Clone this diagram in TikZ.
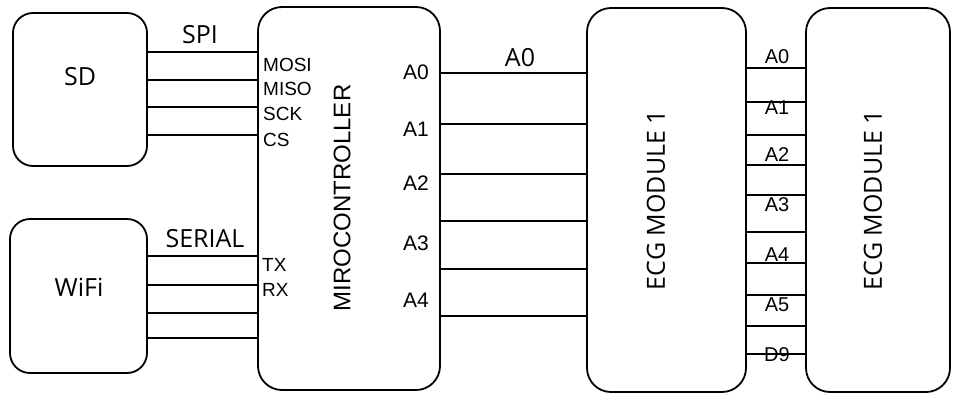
\documentclass[tikz,border=0pt]{standalone}
\usepackage{fontspec}
\setmainfont{Liberation Sans}
\newfontfamily\labelfont{Open Sans}
\usetikzlibrary{positioning}

\begin{document}
\begin{tikzpicture}[x=1pt,y=-1pt,
  box/.style={draw,line width=1.8pt,rounded corners=20pt,inner sep=0pt},
  wire/.style={line width=1.7pt},
  title/.style={font=\labelfont\fontsize{25}{29}\selectfont},
  vtitle/.style={font=\fontsize{24}{28}\selectfont,rotate=90},
  pin/.style={font=\fontsize{19}{22}\selectfont,inner sep=0pt}
]
\useasboundingbox (0,0) rectangle (953,394);
% blocks
\node[box,minimum width=134pt,minimum height=153pt] (sd) at (80,89.5) {};
\node[box,minimum width=137pt,minimum height=154pt] (wifi) at (78.5,296) {};
\node[box,minimum width=182pt,minimum height=383pt,rounded corners=24pt] (mcu) at (349,198.5) {};
\node[box,minimum width=159pt,minimum height=384pt,rounded corners=24pt] (ecga) at (666.5,200) {};
\node[box,minimum width=144pt,minimum height=384pt,rounded corners=24pt] (ecgb) at (878,200) {};
% block titles
\node[title] (sdlbl) at (80,77) {SD};
\node[title] (wifilbl) at (79,287) {WiFi};
\node[vtitle] (mculbl) at (342,198) {MIROCONTROLLER};
\node[title,rotate=90] (ecgalbl) at (656,200) {ECG MODULE 1};
\node[title,rotate=90] (ecgblbl) at (873,200) {ECG MODULE 1};
% buses
\node[title] (spi) at (200,35) {SPI};
\node[title] (serial) at (205,239) {SERIAL};
\node[title] (busa0) at (520,58) {A0};
\foreach \y in {52,80,107,135}
  \draw[wire] (sd.east |- 0,\y) -- (mcu.west |- 0,\y);
\foreach \y in {256,285,313,338}
  \draw[wire] (wifi.east |- 0,\y) -- (mcu.west |- 0,\y);
\foreach \y in {73,124,174,221,269,316}
  \draw[wire] (mcu.east |- 0,\y) -- (ecga.west |- 0,\y);
\foreach \y in {68,102,135,165,195,232,263,295,326,354}
  \draw[wire] (ecga.east |- 0,\y) -- (ecgb.west |- 0,\y);
% pin labels
\node[pin,anchor=west] (mosi) at (263,65) {MOSI};
\node[pin,anchor=west] (miso) at (263,89) {MISO};
\node[pin,anchor=west] (sck) at (263,114) {SCK};
\node[pin,anchor=west] (cs) at (263,140) {CS};
\node[pin,anchor=west] (tx) at (262,265) {TX};
\node[pin,anchor=west] (rx) at (262,290) {RX};
\foreach \n/\y in {0/72,1/129,2/183,3/243,4/300}
  \node[pin,anchor=east,font=\fontsize{21}{24}\selectfont] (mcua\n) at (429,\y) {A\n};
\foreach \t/\y in {A0/57,A1/108,A2/155,A3/205,A4/255,A5/305,D9/355}
  \node[pin,font=\fontsize{20}{23}\selectfont] (ecg\t) at (777,\y) {\t};
\end{tikzpicture}
\end{document}
